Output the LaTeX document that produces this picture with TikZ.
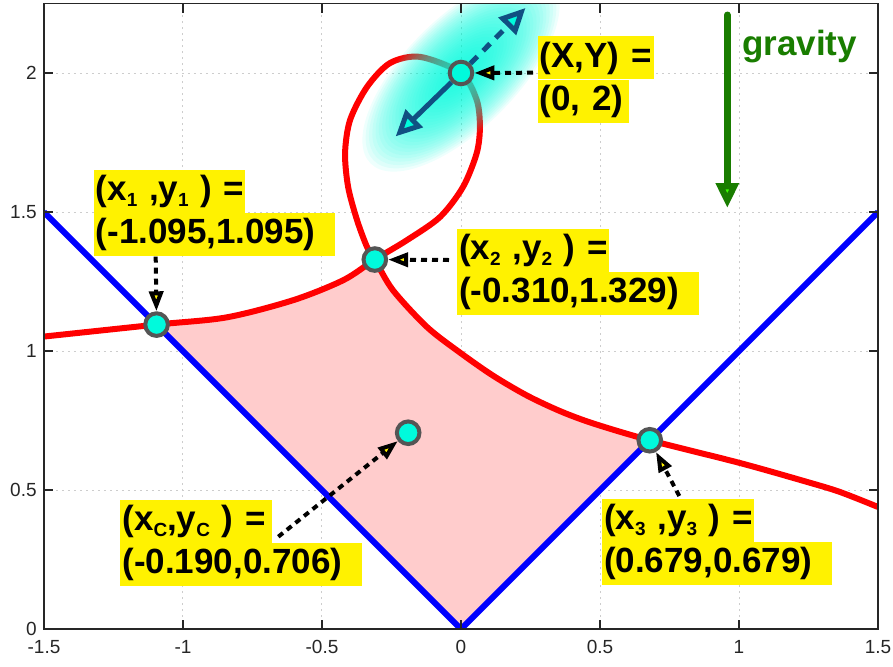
\documentclass[tikz,border=0pt]{standalone}
\usepackage{fontspec}
\setmainfont{Liberation Sans}
\usetikzlibrary{arrows.meta}
\definecolor{ptcyan}{RGB}{0,250,220}
\definecolor{ringgray}{RGB}{85,85,85}
\definecolor{pinkfill}{RGB}{255,204,204}
\definecolor{arrowblue}{RGB}{16,80,130}
\definecolor{gravgreen}{RGB}{25,125,0}
\definecolor{gravlight}{RGB}{60,255,0}
\definecolor{axisgray}{RGB}{38,38,38}
\definecolor{gridgray}{RGB}{205,205,205}
\newcommand\sbs[1]{\raisebox{-3pt}{\fontsize{9.5}{10}\selectfont #1}}
\begin{document}
\begin{tikzpicture}[x=139pt,y=139pt,
  pix/.style={x=0.5pt,y=-0.5pt,shift={(-461,-629)}},
  ptm/.style={circle, fill=ptcyan, draw=ringgray, line width=2pt, minimum size=11.3pt, inner sep=0pt},
  lbl/.style={fill=yellow, font=\fontsize{17.5}{20}\selectfont\bfseries, inner xsep=1pt, inner ysep=0pt,
              text height=15.3pt, text depth=6.1pt, anchor=north west, align=left},
  annot/.style={draw=black, line width=2pt, dash pattern=on 3pt off 2.5pt,
              -{Triangle[length=10pt,width=7pt,fill=yellow]}},
  dblarrow/.style={arrowblue, line width=2.5pt, -{Triangle[length=13pt,width=12pt,fill=ptcyan]}},
  gridline/.style={gridgray, line width=0.5pt, dash pattern=on 1pt off 2pt},
  ticklbl/.style={font=\fontsize{9.5}{11}\selectfont, inner sep=0pt, text=axisgray}
]
\begin{scope}[pix]
  \useasboundingbox (0,0) rectangle (893,666);
\end{scope}

% ---------- data area (clipped) ----------
\begin{scope}
  \clip (-1.5,0) rectangle (1.5,2.25);
  \foreach \x in {-1,-0.5,0,0.5,1} \draw[gridline] (\x,0) -- (\x,2.25);
  \foreach \y in {0.5,1,1.5,2} \draw[gridline] (-1.5,\y) -- (1.5,\y);
  % shaded region
  \fill[pinkfill] plot[smooth] coordinates {(-1.095,1.095) (-0.843,1.121) (-0.603,1.183) (-0.423,1.255) (-0.310,1.329)}
     -- plot[smooth] coordinates {(-0.310,1.329) (-0.245,1.219) (-0.122,1.086) (-0.004,0.9946) (0.115,0.9115) (0.237,0.840) (0.356,0.784) (0.475,0.7396) (0.679,0.679)}
     -- (0,0) -- cycle;
  % V
  \draw[blue, line width=3pt] (-1.5,1.5) -- (0,0) -- (1.5,1.5);
  % red curve
  \draw[red, line width=3pt] plot[smooth] coordinates {(-1.5,1.052) (-1.095,1.095) (-0.843,1.121) (-0.603,1.183) (-0.423,1.255) (-0.310,1.329) (-0.194,1.399) (-0.0755,1.482) (0.0072,1.590) (0.0565,1.712) (0.068,1.806) (0.0565,1.903) (0,2) (-0.147,2.058) (-0.255,2.036) (-0.338,1.950) (-0.399,1.831) (-0.417,1.712) (-0.406,1.590) (-0.374,1.471) (-0.338,1.374) (-0.310,1.329) (-0.245,1.219) (-0.122,1.086) (-0.004,0.9946) (0.115,0.9115) (0.237,0.840) (0.356,0.784) (0.475,0.7396) (0.679,0.679) (1.004,0.597) (1.245,0.529) (1.363,0.493) (1.5,0.439)};
  % glow
  \foreach \i in {1,...,30}
    \fill[ptcyan, opacity=0.065, rotate around={45:(0,2)}] (0,2) ellipse ({0.46*\i/30} and {0.2*\i/30});
\end{scope}

% ---------- points ----------
\node[ptm] (p1) at (-1.095,1.095) {};
\node[ptm] (p2) at (-0.310,1.329) {};
\node[ptm] (p3) at (0.679,0.679) {};
\node[ptm] (pc) at (-0.190,0.706) {};
\node[ptm] (p0) at (0,2) {};

\coordinate (tipS) at (-0.235,1.772);
\coordinate (tipD) at (0.232,2.234);
\draw[dblarrow] (p0) -- (tipS);
\draw[dblarrow, dash pattern=on 5pt off 4pt] (p0) -- (tipD);

% ---------- labels ----------
\begin{scope}[pix]
  \node[lbl, text width=73.85pt] (l1a) at (93.3,169.3) {\mbox{(x\sbs{1} ,y\sbs{1} ) =}};
  \node[lbl, text width=118.85pt] (l1b) at (l1a.south west) {\mbox{(-1.095,1.095)}};

  \node[lbl, text width=73.85pt] (l2a) at (456.7,228.3) {\mbox{(x\sbs{2} ,y\sbs{2} ) =}};
  \node[lbl, text width=118.85pt] (l2b) at (l2a.south west) {\mbox{(-0.310,1.329)}};

  \node[lbl, text width=56pt] (l0a) at (537.3,36) {\mbox{(X,Y) =}};
  \node[lbl, text width=43.5pt] (l0b) at (l0a.south west) {\mbox{(0, 2)}};

  \node[lbl, text width=73.85pt] (lca) at (120,499.3) {\mbox{(x\sbs{C},y\sbs{C} ) =}};
  \node[lbl, text width=118.85pt] (lcb) at (lca.south west) {\mbox{(-0.190,0.706)}};

  \node[lbl, text width=74.15pt] (l3a) at (601.7,498.3) {\mbox{(x\sbs{3} ,y\sbs{3} ) =}};
  \node[lbl, text width=113pt] (l3b) at (l3a.south west) {\mbox{(0.679,0.679)}};

  \coordinate (a1) at (155.7,256.7);
  \coordinate (a2) at (449,260);
  \coordinate (a0) at (533,72.7);
  \coordinate (ac) at (278.3,536.7);
  \coordinate (a3) at (679.3,496);

  % gravity
  \coordinate (g0) at (727.3,15);
  \coordinate (g1) at (727.3,208);
  \node[anchor=base west, inner sep=0pt, text=gravgreen, font=\fontsize{17.5}{20}\selectfont\bfseries] (grav) at (741.7,55) {gravity};
\end{scope}

\draw[annot] (a1) -- (p1);
\draw[annot] (a2) -- (p2);
\draw[annot] (a0) -- (p0);
\draw[annot] (ac) -- (pc);
\draw[annot] (a3) -- (p3);

\draw[gravgreen, line width=3.5pt, line cap=round, -{Triangle[length=12.5pt,width=11pt,fill=gravlight]}] (g0) -- (g1);

% ---------- axes ----------
\draw[axisgray, line width=0.6pt] (-1.5,0) rectangle (1.5,2.25);
\foreach \x/\t in {-1.5/-1.5,-1/-1,-0.5/-0.5,0/0,0.5/0.5,1/1,1.5/1.5} {
  \draw[axisgray, line width=0.6pt] (\x,0) -- (\x,0.0324);
  \draw[axisgray, line width=0.6pt] (\x,2.25) -- (\x,2.2176);
  \node[ticklbl, anchor=north] at (\x,-0.04) {\t};
}
\foreach \y/\t in {0/0,0.5/0.5,1/1,1.5/1.5,2/2} {
  \draw[axisgray, line width=0.6pt] (-1.5,\y) -- (-1.4676,\y);
  \draw[axisgray, line width=0.6pt] (1.5,\y) -- (1.4676,\y);
  \node[ticklbl, anchor=east] at (-1.525,\y) {\t};
}
\end{tikzpicture}
\end{document}
